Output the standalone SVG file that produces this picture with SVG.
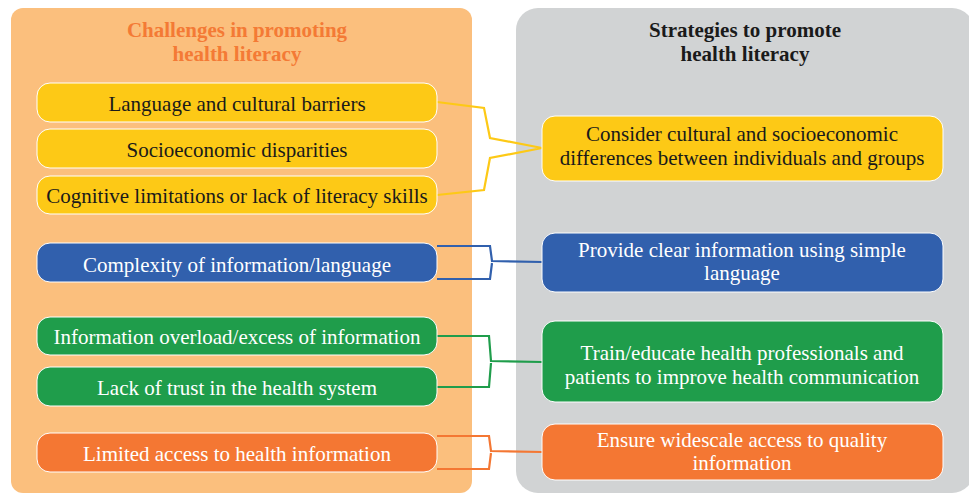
<svg xmlns="http://www.w3.org/2000/svg" width="969" height="495" viewBox="0 0 969 495">
  <style>
    .t { font-family: "Liberation Serif", "Times New Roman", serif; font-size: 21px; text-anchor: middle; }
    .h { font-family: "Liberation Serif", "Times New Roman", serif; font-size: 21px; font-weight: bold; text-anchor: middle; }
    .dark { fill: #1a1a1a; }
    .light { fill: #ffffff; }
    .box { stroke: #ffffff; stroke-width: 1; }
    .yel { fill: #fdc916; }
    .blu { fill: #3160ad; }
    .grn { fill: #1f9d4b; }
    .org { fill: #f47733; }
    .con { fill: none; stroke-width: 2.2; stroke-linejoin: miter; }
  </style>

  <!-- column panels -->
  <rect id="panel-challenges" x="11" y="8" width="461" height="485" rx="12" fill="#fbbf7d"/>
  <rect id="panel-strategies" x="516" y="8" width="458" height="485" rx="22" fill="#d1d3d4"/>

  <text class="h" x="237" y="37" fill="#f47a35">Challenges in promoting</text>
  <text class="h" x="237" y="61" fill="#f47a35">health literacy</text>
  <text class="h dark" x="745" y="37">Strategies to promote</text>
  <text class="h dark" x="745" y="61">health literacy</text>

  <!-- connectors -->
  <g id="connectors">
    <path class="con" stroke="#fdc916" d="M437,102 L484,108 L490,138 L542,148 L490,158 L484,190 L437,195"/>
    <path class="con" stroke="#3160ad" d="M437,246 L490,246 L492,261 L542,262 M437,279 L490,279 L492,263"/>
    <path class="con" stroke="#1f9d4b" d="M437,336 L489,336 L491,361 L542,362 M437,387 L489,387 L491,363"/>
    <path class="con" stroke="#f47733" d="M437,436 L489,436 L491,451 L542,452 M437,469 L489,469 L491,453"/>
  </g>

  <!-- challenges -->
  <g id="c-language">
    <rect class="box yel" x="37" y="83" width="400" height="39" rx="13"/>
    <text class="t dark" x="237" y="111">Language and cultural barriers</text>
  </g>
  <g id="c-socioeconomic">
    <rect class="box yel" x="37" y="129" width="400" height="39" rx="13"/>
    <text class="t dark" x="237" y="157">Socioeconomic disparities</text>
  </g>
  <g id="c-cognitive">
    <rect class="box yel" x="37" y="176" width="400" height="38" rx="13"/>
    <text class="t dark" x="237" y="203">Cognitive limitations or lack of literacy skills</text>
  </g>
  <g id="c-complexity">
    <rect class="box blu" x="37" y="243" width="400" height="39" rx="13"/>
    <text class="t light" x="237" y="272">Complexity of information/language</text>
  </g>
  <g id="c-overload">
    <rect class="box grn" x="37" y="317" width="400" height="38" rx="13"/>
    <text class="t light" x="237" y="344">Information overload/excess of information</text>
  </g>
  <g id="c-trust">
    <rect class="box grn" x="37" y="367" width="400" height="39" rx="13"/>
    <text class="t light" x="237" y="395">Lack of trust in the health system</text>
  </g>
  <g id="c-access">
    <rect class="box org" x="37" y="433" width="400" height="39" rx="13"/>
    <text class="t light" x="237" y="461">Limited access to health information</text>
  </g>

  <!-- strategies -->
  <g id="s-cultural">
    <rect class="box yel" x="542" y="116" width="401" height="65" rx="13"/>
    <text class="t dark" x="742" y="141">Consider cultural and socioeconomic</text>
    <text class="t dark" x="742" y="165">differences between individuals and groups</text>
  </g>
  <g id="s-clear">
    <rect class="box blu" x="542" y="233" width="401" height="59" rx="13"/>
    <text class="t light" x="742" y="257">Provide clear information using simple</text>
    <text class="t light" x="742" y="280">language</text>
  </g>
  <g id="s-train">
    <rect class="box grn" x="542" y="321" width="401" height="81" rx="13"/>
    <text class="t light" x="742" y="360">Train/educate health professionals and</text>
    <text class="t light" x="742" y="384">patients to improve health communication</text>
  </g>
  <g id="s-access">
    <rect class="box org" x="542" y="424" width="401" height="56" rx="13"/>
    <text class="t light" x="742" y="447">Ensure widescale access to quality</text>
    <text class="t light" x="742" y="470">information</text>
  </g>
</svg>
